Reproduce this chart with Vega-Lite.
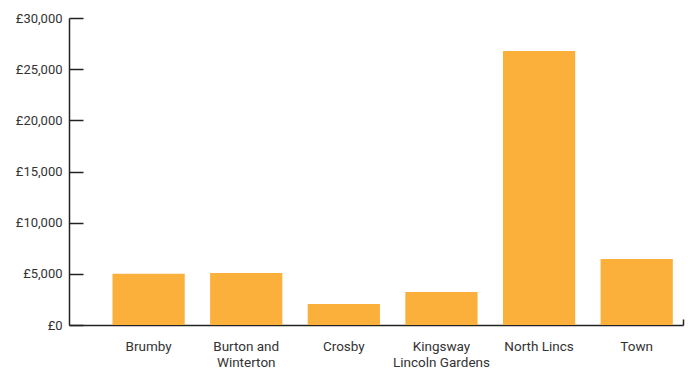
{
  "$schema": "https://vega.github.io/schema/vega-lite/v6.json",
  "width": 614,
  "height": 307,
  "autosize": {"type": "none"},
  "padding": {"left": 69, "top": 18, "right": 5, "bottom": 47},
  "background": "white",
  "config": {
    "view": {"stroke": null},
    "font": "Roboto",
    "axis": {"labelFont": "Roboto", "labelFontSize": 13, "labelColor": "#333333", "domainColor": "#222222", "tickColor": "#222222", "grid": false, "title": null}
  },
  "layer": [
    {
      "data": {"values": [
        {"area": "Brumby", "value": 5000},
        {"area": "Burton and Winterton", "value": 5080},
        {"area": "Crosby", "value": 2050},
        {"area": "Kingsway Lincoln Gardens", "value": 3230},
        {"area": "North Lincs", "value": 26780},
        {"area": "Town", "value": 6450}
      ]},
      "mark": {"type": "bar", "color": "#FBB03B"},
      "encoding": {
        "x": {
          "field": "area", "type": "nominal", "sort": null,
          "scale": {"paddingInner": 0.26, "paddingOuter": 0.275, "align": 0.81},
          "axis": {
            "ticks": false, "labelAngle": 0, "labelPadding": 14, "labelLineHeight": 16, "labelFontSize": 13.5,
            "labelExpr": "datum.label == 'Burton and Winterton' ? ['Burton and', 'Winterton'] : datum.label == 'Kingsway Lincoln Gardens' ? ['Kingsway', 'Lincoln Gardens'] : datum.label",
            "domainWidth": 1.5
          }
        },
        "y": {
          "field": "value", "type": "quantitative",
          "scale": {"domain": [0, 30000], "nice": false},
          "axis": {
            "values": [0, 5000, 10000, 15000, 20000, 25000, 30000],
            "labelExpr": "'£' + format(datum.value, ',')",
            "tickSize": -14, "labelPadding": 21, "domainWidth": 1.5, "tickWidth": 1.5
          }
        }
      }
    },
    {
      "data": {"values": [{"end": 1}]},
      "mark": {"type": "point", "opacity": 0},
      "encoding": {
        "x": {
          "field": "end", "type": "quantitative",
          "scale": {"domain": [0, 1], "nice": false},
          "axis": {"orient": "bottom", "values": [1], "labels": false, "domain": false, "tickSize": -6, "tickWidth": 1.5, "offset": 0}
        }
      }
    }
  ],
  "resolve": {"scale": {"x": "independent"}, "axis": {"x": "independent"}}
}
